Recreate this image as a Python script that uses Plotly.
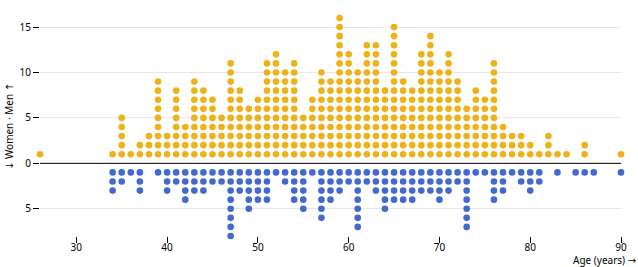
import plotly.graph_objects as go

# ---- data ----
men_ages = [26, 34, 35, 36, 37, 38, 39, 40, 41, 42, 43, 44, 45, 46, 47, 48, 49, 50,
            51, 52, 53, 54, 55, 56, 57, 58, 59, 60, 61, 62, 63, 64, 65, 66, 67, 68,
            69, 70, 71, 72, 73, 74, 75, 76, 77, 78, 79, 80, 81, 82, 83, 84, 86, 90]
men_counts = [1, 1, 5, 1, 2, 3, 9, 3, 8, 4, 9, 8, 7, 5, 11, 8, 6, 7,
              11, 12, 10, 11, 5, 7, 10, 9, 16, 12, 10, 13, 13, 8, 15, 9, 8, 12,
              14, 10, 12, 9, 6, 8, 7, 11, 4, 3, 3, 2, 1, 3, 1, 1, 2, 1]

women_ages = [34, 35, 36, 37, 39, 40, 41, 42, 43, 44, 45, 46, 47, 48, 49, 50, 51,
              52, 53, 54, 55, 56, 57, 58, 59, 60, 61, 62, 63, 64, 65, 66, 67, 68,
              69, 70, 71, 72, 73, 74, 75, 76, 77, 78, 79, 80, 81, 83, 85, 86, 87, 90]
women_counts = [3, 2, 1, 3, 1, 3, 2, 4, 3, 3, 2, 2, 8, 3, 5, 4, 4,
                1, 2, 4, 5, 1, 6, 4, 3, 2, 7, 2, 3, 5, 4, 4, 4, 3,
                3, 4, 3, 2, 7, 1, 1, 4, 3, 1, 2, 3, 2, 1, 1, 1, 1, 1]

x_ticks = [30, 40, 50, 60, 70, 80, 90]
y_ticks = [-5, 0, 5, 10, 15]
y_ticktext = ["5", "0", "5", "10", "15"]

MEN_COLOR = "#efb118"
WOMEN_COLOR = "#4269d0"


def stack(ages, counts, sign):
    xs, ys = [], []
    for a, c in zip(ages, counts):
        for k in range(1, c + 1):
            xs.append(a)
            ys.append(sign * k)
    return xs, ys


mx, my = stack(men_ages, men_counts, 1)
wx, wy = stack(women_ages, women_counts, -1)

fig = go.Figure()
fig.add_trace(go.Scatter(x=mx, y=my, mode="markers", cliponaxis=False,
                         marker=dict(size=6.6, color=MEN_COLOR, line=dict(width=0)),
                         name="Men", hoverinfo="skip"))
fig.add_trace(go.Scatter(x=wx, y=wy, mode="markers", cliponaxis=False,
                         marker=dict(size=6.6, color=WOMEN_COLOR, line=dict(width=0)),
                         name="Women", hoverinfo="skip"))

fig.add_shape(type="line", xref="paper", yref="y", x0=0, x1=1, y0=0, y1=0,
              line=dict(color="black", width=1), layer="above")

font = dict(family="Noto Sans, Open Sans, DejaVu Sans, sans-serif", size=10, color="black")

PLOT_L, PLOT_R, PLOT_T, PLOT_B = 40, 621, 18, 236

fig.update_layout(
    width=638, height=267,
    margin=dict(l=PLOT_L, r=638 - PLOT_R, t=PLOT_T, b=267 - PLOT_B, pad=0, autoexpand=False),
    paper_bgcolor="white", plot_bgcolor="white",
    showlegend=False, hovermode=False,
    font=font,
    xaxis=dict(range=[26, 90], tickvals=x_ticks, ticks="outside", ticklen=6,
               ticklabelstandoff=-4,
               tickcolor="black", tickwidth=1, showgrid=False, zeroline=False,
               showline=False, tickfont=font, fixedrange=True, automargin=False),
    yaxis=dict(range=[-8, 16], tickvals=y_ticks, ticktext=y_ticktext,
               ticks="outside", ticklen=6, tickcolor="black", tickwidth=1,
               showgrid=True, gridcolor="#e6e6e6", gridwidth=1, zeroline=False,
               showline=False, tickfont=font, fixedrange=True, automargin=False),
    annotations=[
        dict(text="Age (years) →", xref="paper", yref="paper",
             x=(637 - PLOT_L) / (PLOT_R - PLOT_L), y=(PLOT_B - 268) / (PLOT_B - PLOT_T),
             xanchor="right", yanchor="bottom", showarrow=False, font=font,
             borderpad=0),
        dict(text="↓ Women · Men ↑", xref="paper", yref="paper", textangle=-90,
             x=(9 - PLOT_L) / (PLOT_R - PLOT_L), y=0.5,
             xanchor="center", yanchor="middle", showarrow=False, font=font),
    ],
)

fig.write_html("out.html")
